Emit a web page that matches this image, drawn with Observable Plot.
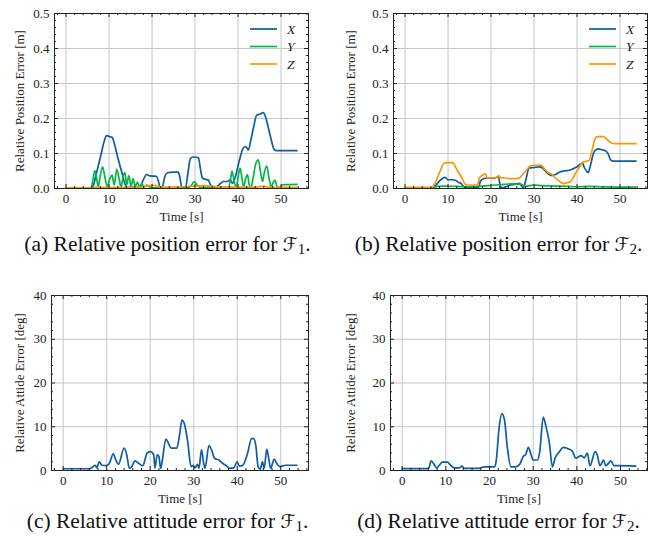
<!DOCTYPE html>
<html>
<head>
<meta charset="utf-8">
<script src="https://cdn.jsdelivr.net/npm/d3@7"></script>
<script src="https://cdn.jsdelivr.net/npm/@observablehq/plot@0.6"></script>
<style>
  html, body { margin: 0; padding: 0; background: #fff; }
  #root { position: relative; width: 662px; height: 540px; overflow: hidden; }
  .panel { position: absolute; }
  .caption { position: absolute; width: 331px; text-align: center; font-family: "Liberation Serif", "Times New Roman", serif; font-size: 21.5px; color: #111; white-space: nowrap; }
  .cal { font-family: "DejaVu Serif", "DejaVu Sans", serif; font-style: italic; font-size: 19px; }
  .caption sub { font-size: 15px; vertical-align: -3px; }
  .legend { position: absolute; }
</style>
</head>
<body>
<div id="root"></div>
<script>
// ---------------- DATA ----------------
const timeTicks = [0, 10, 20, 30, 40, 50];
const timeMinor = [-2, 2, 4, 6, 8, 12, 14, 16, 18, 22, 24, 26, 28, 32, 34, 36, 38, 42, 44, 46, 48, 52, 54, 56];
const posTicks = [0, 0.1, 0.2, 0.3, 0.4, 0.5];
const posMinor = [0.02, 0.04, 0.06, 0.08, 0.12, 0.14, 0.16, 0.18, 0.22, 0.24, 0.26, 0.28, 0.32, 0.34, 0.36, 0.38, 0.42, 0.44, 0.46, 0.48];
const attTicks = [0, 10, 20, 30, 40];
const attMinor = [2, 4, 6, 8, 12, 14, 16, 18, 22, 24, 26, 28, 32, 34, 36, 38];
const seriesNames = ["X", "Y", "Z"];
const seriesColors = ["#0C5DA5", "#00B945", "#FF9500"];

// (a) Relative position error for F1  [time s, error m]
const posF1_X = [[0,0.002],[6,0.002],[6.4,0.01],[7,0.04],[8,0.09],[9,0.14],[9.4,0.151],[10.2,0.148],[10.8,0.145],[11.2,0.13],[12,0.09],[13,0.045],[13.8,0.01],[14.3,0.003],[17.2,0.003],[17.8,0.02],[18.8,0.04],[19.5,0.036],[21,0.035],[21.5,0.02],[21.9,0.002],[22.4,0.005],[23,0.035],[23.6,0.045],[25,0.047],[26.1,0.047],[26.5,0.03],[26.9,0.003],[27.8,0.003],[28.3,0.04],[28.9,0.085],[29.5,0.09],[30.8,0.088],[31.2,0.06],[31.7,0.03],[32.5,0.026],[33.1,0.024],[33.6,0.01],[34.2,0.002],[35,0.005],[36,0.015],[36.6,0.02],[37.5,0.02],[38.2,0.025],[38.7,0.015],[39.3,0.03],[40.3,0.08],[41.2,0.115],[41.8,0.12],[42.4,0.11],[43,0.14],[43.7,0.18],[44.3,0.209],[45.2,0.213],[45.9,0.217],[46.5,0.2],[47.5,0.15],[48.4,0.112],[49,0.108],[53.7,0.108]];
const posF1_Y = [[0,0.002],[5.8,0.002],[6.2,0.02],[6.7,0.051],[7.1,0.03],[7.5,0.005],[8,0.04],[8.5,0.062],[9,0.035],[9.6,0.004],[10.1,0.025],[10.7,0.038],[11.2,0.01],[11.8,0.055],[12.3,0.03],[12.8,0.004],[13.2,0.03],[13.7,0.046],[14.1,0.01],[14.6,0.037],[15.1,0.006],[15.6,0.028],[16.1,0.005],[16.6,0.018],[17.1,0.004],[17.6,0.014],[18.1,0.004],[18.8,0.01],[19.5,0.004],[20.5,0.002],[28.5,0.002],[29.3,0.012],[29.8,0.02],[30.5,0.01],[31.2,0.003],[37.8,0.003],[38.3,0.03],[38.6,0.05],[39.1,0.02],[39.6,0.004],[40.1,0.04],[40.5,0.058],[40.9,0.03],[41.3,0.005],[41.8,0.03],[42.2,0.04],[42.6,0.01],[43,0.003],[43.5,0.03],[44.1,0.07],[44.7,0.082],[45.2,0.05],[45.7,0.02],[46.1,0.045],[46.7,0.064],[47.2,0.03],[47.7,0.005],[48.2,0.018],[48.6,0.024],[49.1,0.005],[49.8,0.003],[50.5,0.011],[53.7,0.012]];
const posF1_Z = [[0,0.002],[6,0.002],[7,0.004],[10,0.003],[14,0.003],[17,0.004],[18.5,0.007],[20,0.009],[21,0.008],[22,0.004],[26,0.004],[28,0.006],[30,0.007],[32,0.008],[34,0.006],[36,0.004],[40,0.004],[44,0.004],[46,0.007],[47,0.004],[50,0.003],[53.7,0.003]];

// (b) Relative position error for F2
const posF2_X = [[0,0.002],[6.5,0.002],[7.2,0.01],[8.3,0.025],[9.3,0.032],[10,0.025],[11,0.025],[11.9,0.022],[12.5,0.017],[13,0.015],[13.6,0.006],[14.1,0.003],[17.1,0.003],[17.5,0.02],[18.2,0.028],[19,0.03],[21,0.03],[21.7,0.035],[22.1,0.01],[22.4,0.002],[23.5,0.005],[24.5,0.01],[25.5,0.012],[26.6,0.015],[27.2,0.005],[27.5,0.002],[28.2,0.03],[28.8,0.058],[30,0.06],[31.4,0.062],[32,0.058],[33,0.045],[34.2,0.037],[35,0.04],[35.8,0.046],[37,0.05],[38.2,0.052],[39,0.056],[40,0.062],[40.8,0.07],[41.3,0.072],[41.7,0.06],[42.2,0.05],[42.6,0.046],[43.2,0.07],[43.8,0.1],[44.3,0.11],[45,0.113],[45.9,0.11],[46.6,0.108],[47.2,0.1],[47.8,0.082],[48.5,0.078],[53.7,0.078]];
const posF2_Y = [[0,0.002],[6.5,0.002],[7.5,0.006],[9,0.007],[12,0.006],[15,0.005],[18,0.007],[21,0.01],[23,0.012],[25,0.013],[27,0.012],[28,0.006],[30,0.01],[32,0.008],[35,0.007],[38,0.006],[40,0.005],[43,0.006],[46,0.005],[50,0.004],[53.7,0.004]];
const posF2_Z = [[0,0.003],[6.2,0.003],[7,0.015],[8,0.045],[9.1,0.072],[10,0.074],[11.1,0.073],[12,0.055],[13,0.035],[14,0.012],[14.3,0.01],[16.8,0.01],[17.3,0.03],[17.8,0.036],[18.7,0.042],[19.1,0.03],[20,0.03],[21.3,0.032],[21.8,0.036],[22.3,0.031],[23,0.03],[24.5,0.028],[26.4,0.029],[27,0.035],[28.2,0.052],[29.2,0.065],[30.5,0.066],[31.6,0.067],[32.5,0.055],[33.4,0.045],[34.2,0.04],[35,0.03],[36,0.02],[36.8,0.014],[37.5,0.016],[38.5,0.02],[39.5,0.04],[40.5,0.06],[41.3,0.075],[42.8,0.08],[43.5,0.11],[44.3,0.145],[44.8,0.148],[46.2,0.148],[47,0.14],[48,0.13],[49,0.128],[53.7,0.128]];

// (c) Relative attitude error for F1  [time s, error deg]
const attF1 = [[0,0.4],[6,0.4],[6.8,0.8],[7.4,1.2],[7.7,0.6],[8.3,2.0],[8.9,1.2],[9.8,1.1],[10.6,1.6],[11.5,3.8],[12.1,2.4],[12.7,1.4],[14,5.1],[14.6,3.6],[15.2,0.5],[15.7,0.8],[16.5,2.2],[17.4,1.6],[18.3,1.1],[19.3,4.0],[20.1,4.3],[20.8,3.6],[21.1,0.5],[21.6,3.6],[22,3.2],[22.4,0.5],[22.8,2.4],[23.6,7.2],[24.2,6.2],[24.8,5.1],[26.1,5.1],[26.7,7.8],[27.3,11.5],[27.9,10.5],[28.6,6.7],[29.4,0.9],[29.9,1.2],[30.3,0.6],[30.9,1.4],[31.2,0.5],[31.8,4.7],[32.3,1.6],[32.6,0.5],[33.5,5.7],[34.1,4.7],[34.8,2.8],[35.8,2.4],[36.7,1.6],[37.5,1.1],[38.3,0.5],[39.2,0.6],[40,2.0],[40.5,1.0],[41.3,1.2],[42.4,4.0],[43.3,7.3],[43.8,7.3],[44.3,5.5],[44.8,0.9],[45.3,0.3],[45.8,2.0],[46.2,0.5],[46.8,4.9],[47.3,2.4],[47.7,0.5],[48.5,2.6],[49.1,1.6],[49.8,0.9],[51.1,1.2],[53.7,1.2]];
// (d) Relative attitude error for F2
const attF2 = [[0,0.45],[5.8,0.45],[6.2,0.8],[6.6,2.2],[7.3,1.4],[7.9,0.6],[8.5,1.2],[9.2,1.9],[10.4,1.9],[11.1,1.2],[11.9,0.6],[13.1,0.6],[13.7,1.0],[14.2,0.5],[17.6,0.5],[18.8,0.85],[21.1,0.85],[21.5,2.0],[22.2,9.8],[22.8,13.0],[23.4,11.7],[24.1,5.1],[24.9,0.85],[26,0.85],[26.9,1.4],[27.7,3.2],[28.3,3.7],[28.9,5.3],[29.5,3.6],[30,2.4],[31,2.4],[31.5,4.3],[32.3,12.2],[32.9,10.2],[33.7,6.3],[34.4,0.85],[35,2.8],[36,4.3],[36.9,5.3],[37.9,5.0],[38.9,4.5],[39.8,2.8],[40.9,3.4],[41.7,2.9],[42.4,4.0],[43,1.1],[44.2,4.3],[44.7,3.4],[45.3,1.1],[46.1,2.4],[46.6,1.1],[47.2,1.6],[47.8,2.2],[48.5,1.1],[49.7,1.1],[53.5,1.0]];

const captions = [
  ["(a) Relative position error for ", "1", "."],
  ["(b) Relative position error for ", "2", "."],
  ["(c) Relative attitude error for ", "1", "."],
  ["(d) Relative attitude error for ", "2", "."]
];

// ---------------- DRAWING ----------------
const root = document.getElementById("root");
const FONT = "'Liberation Serif', 'DejaVu Serif', serif";
const W = 331, H = 225, MT = 13, MB = 37;
const innerH = H - MT - MB;

function pad(ext) { const d = (ext[1] - ext[0]) * 0.05; return [ext[0] - d, ext[1] + d]; }

function panel({left, top, ml, mr, series, yDomain, yTicks, yMinor, yFormat, yLabel, legend}) {
  const allT = series.flatMap(s => s.data.map(d => d[0]));
  const xDomain = pad(d3.extent(allT));
  const innerW = W - ml - mr;
  const tickColor = "#222";
  const minorX = timeMinor.filter(v => v > xDomain[0] && v < xDomain[1]);
  const marks = [
    Plot.gridX(timeTicks, {stroke: "#c6c6c6", strokeOpacity: 1, strokeWidth: 1}),
    Plot.gridY(yTicks, {stroke: "#c6c6c6", strokeOpacity: 1, strokeWidth: 1}),
    ...series.map(s => Plot.line(s.data, {x: d => d[0], y: d => d[1], stroke: s.color, strokeWidth: 1.7, curve: "monotone-x"})),
    // inward major / minor ticks on all four sides
    Plot.tickX(timeTicks, {x: d => d, insetTop: innerH - 4, stroke: tickColor}),
    Plot.tickX(timeTicks, {x: d => d, insetBottom: innerH - 4, stroke: tickColor}),
    Plot.tickX(minorX, {x: d => d, insetTop: innerH - 2, stroke: tickColor}),
    Plot.tickX(minorX, {x: d => d, insetBottom: innerH - 2, stroke: tickColor}),
    Plot.tickY(yTicks, {y: d => d, insetRight: innerW - 4, stroke: tickColor}),
    Plot.tickY(yTicks, {y: d => d, insetLeft: innerW - 4, stroke: tickColor}),
    Plot.tickY(yMinor, {y: d => d, insetRight: innerW - 2, stroke: tickColor}),
    Plot.tickY(yMinor, {y: d => d, insetLeft: innerW - 2, stroke: tickColor}),
    Plot.frame({stroke: "#222", strokeWidth: 1}),
    Plot.axisX(timeTicks, {tickSize: 0, tickPadding: 5, fontSize: 13, label: "Time [s]", labelAnchor: "center", labelOffset: 32, labelArrow: "none"}),
    Plot.axisY(yTicks, {tickSize: 0, tickPadding: 5, fontSize: 13, tickFormat: yFormat, label: yLabel, labelAnchor: "center", labelOffset: ml - 14, labelArrow: "none"})
  ];
  const chart = Plot.plot({
    width: W, height: H,
    marginLeft: ml, marginRight: mr, marginTop: MT, marginBottom: MB,
    style: {fontFamily: FONT, fontSize: "13px", color: "#222", background: "transparent", overflow: "visible"},
    x: {domain: xDomain},
    y: {domain: yDomain},
    marks
  });
  const div = document.createElement("div");
  div.className = "panel";
  div.style.left = left + "px";
  div.style.top = top + "px";
  div.appendChild(chart);
  root.appendChild(div);

  if (legend) {
    const lg = d3.create("svg").attr("width", 60).attr("height", 56)
      .style("position", "absolute").style("left", (left + legend[0]) + "px").style("top", (top + legend[1]) + "px")
      .style("overflow", "visible");
    series.forEach((s, i) => {
      const y = 8 + i * 17.5;
      lg.append("line").attr("x1", 0).attr("x2", 27).attr("y1", y).attr("y2", y)
        .attr("stroke", s.color).attr("stroke-width", 1.7);
      lg.append("text").attr("x", 37).attr("y", y).attr("dy", "0.35em")
        .attr("font-family", FONT).attr("font-style", "italic").attr("font-size", 13.5).attr("fill", "#222")
        .text(s.name);
    });
    root.appendChild(lg.node());
  }
}

function caption(i, left, top) {
  const c = document.createElement("div");
  c.className = "caption";
  c.style.left = left + "px";
  c.style.top = top + "px";
  const [pre, sub, post] = captions[i];
  c.appendChild(document.createTextNode(pre));
  const f = document.createElement("span"); f.className = "cal"; f.textContent = "\u2131"; c.appendChild(f);
  const s = document.createElement("sub"); s.textContent = sub; c.appendChild(s);
  c.appendChild(document.createTextNode(post));
  root.appendChild(c);
}

const posFmt = d3.format(".1f");
const attFmt = d3.format("d");

panel({left: 0, top: 0, ml: 54, mr: 23,
  series: [posF1_X, posF1_Y, posF1_Z].map((d, i) => ({data: d, name: seriesNames[i], color: seriesColors[i]})),
  yDomain: [0, 0.5], yTicks: posTicks, yMinor: posMinor, yFormat: posFmt,
  yLabel: "Relative Position Error [m]", legend: [250, 21]});
panel({left: 331, top: 0, ml: 62, mr: 15,
  series: [posF2_X, posF2_Y, posF2_Z].map((d, i) => ({data: d, name: seriesNames[i], color: seriesColors[i]})),
  yDomain: [0, 0.5], yTicks: posTicks, yMinor: posMinor, yFormat: posFmt,
  yLabel: "Relative Position Error [m]", legend: [258, 21]});
panel({left: 0, top: 282, ml: 51, mr: 23,
  series: [{data: attF1, name: "att", color: seriesColors[0]}],
  yDomain: [0, 40], yTicks: attTicks, yMinor: attMinor, yFormat: attFmt,
  yLabel: "Relative Attide Error [deg]"});
panel({left: 331, top: 282, ml: 59, mr: 15,
  series: [{data: attF2, name: "att", color: seriesColors[0]}],
  yDomain: [0, 40], yTicks: attTicks, yMinor: attMinor, yFormat: attFmt,
  yLabel: "Relative Attide Error [deg]"});

caption(0, 2, 232);
caption(1, 333, 232);
caption(2, 2, 509);
caption(3, 333, 509);
</script>
</body>
</html>
